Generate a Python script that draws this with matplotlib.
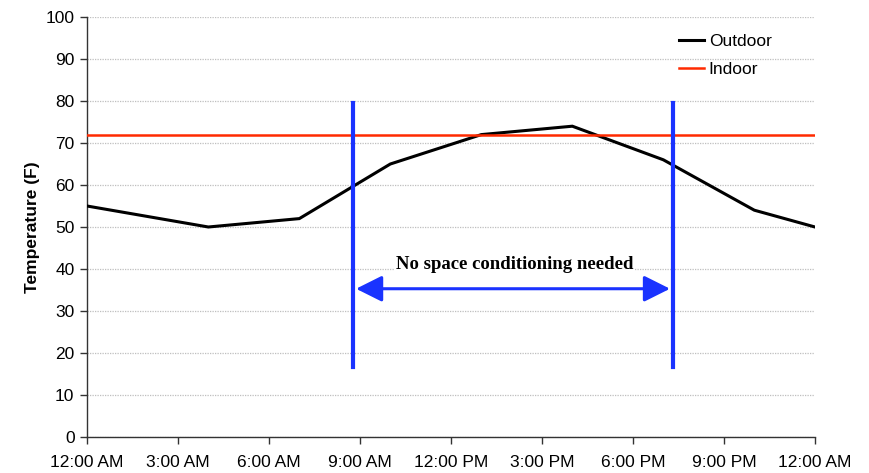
import matplotlib
matplotlib.use("Agg")
import matplotlib.pyplot as plt

# Hourly outdoor temperature (F), hours from midnight
outdoor_hours = [0, 4, 7, 10, 13, 16, 19, 22, 24]
outdoor_temp = [55, 50, 52, 65, 72, 74, 66, 54, 50]

indoor_temp = 72

tick_hours = [0, 3, 6, 9, 12, 15, 18, 21, 24]
tick_labels = ["12:00 AM", "3:00 AM", "6:00 AM", "9:00 AM", "12:00 PM",
               "3:00 PM", "6:00 PM", "9:00 PM", "12:00 AM"]

# window where no space conditioning is needed
window_start = 8.77
window_end = 19.32
window_low = 16.6
window_high = 79.5
arrow_y = 35.3
label_y = 41.1

BLUE = "#1a33ff"

plt.rcParams['font.family'] = ['Liberation Sans', 'DejaVu Sans']

fig = plt.figure(figsize=(8.69, 4.73), dpi=100)
ax = fig.add_axes([87 / 869, 36 / 473, 728 / 869, 420 / 473])

ax.plot(outdoor_hours, outdoor_temp, color="black", lw=2.2, label="Outdoor",
        solid_joinstyle="miter", zorder=3)
ax.axhline(indoor_temp, color="#ff2a00", lw=1.8, label="Indoor", zorder=3)

for x in (window_start, window_end):
    ax.plot([x, x], [window_low, window_high], color=BLUE, lw=3, zorder=4)

ax.annotate("", xy=(window_start + 0.1, arrow_y), xytext=(window_end - 0.1, arrow_y),
            arrowprops=dict(arrowstyle="<|-|>,head_length=0.8,head_width=0.4",
                            mutation_scale=20, color=BLUE, lw=2.2,
                            shrinkA=0, shrinkB=0), zorder=4)
ax.text((window_start + window_end) / 2 + 0.05, label_y, "No space conditioning needed",
        ha="center", va="center", fontsize=13.5, fontweight="bold",
        family=["Liberation Serif", "DejaVu Serif"],
        bbox=dict(facecolor="white", edgecolor="none", pad=1), zorder=4)

ax.set_xlim(0, 24)
ax.set_ylim(0, 100)
ax.set_xticks(tick_hours)
ax.set_xticklabels(tick_labels)
ax.set_yticks(range(0, 101, 10))
ax.tick_params(labelsize=12.5, length=5, width=1, color="#333333")
ax.tick_params(axis="x", pad=8)
ax.tick_params(axis="y", pad=4)

ax.grid(axis="y", color="#bfbfbf", linestyle=(0, (1, 1)), lw=0.9)
ax.set_axisbelow(True)
for side in ("top", "right"):
    ax.spines[side].set_visible(False)
for side in ("left", "bottom"):
    ax.spines[side].set_color("#333333")
    ax.spines[side].set_linewidth(1)

ax.set_ylabel("Temperature (F)", fontsize=12.5, fontweight="bold", labelpad=4)

ax.legend(loc="upper right", bbox_to_anchor=(0.962, 0.997), frameon=False,
          fontsize=12.5, handlelength=1.4, handletextpad=0.3, labelspacing=0.72)

fig.savefig("out.png", dpi=100)
